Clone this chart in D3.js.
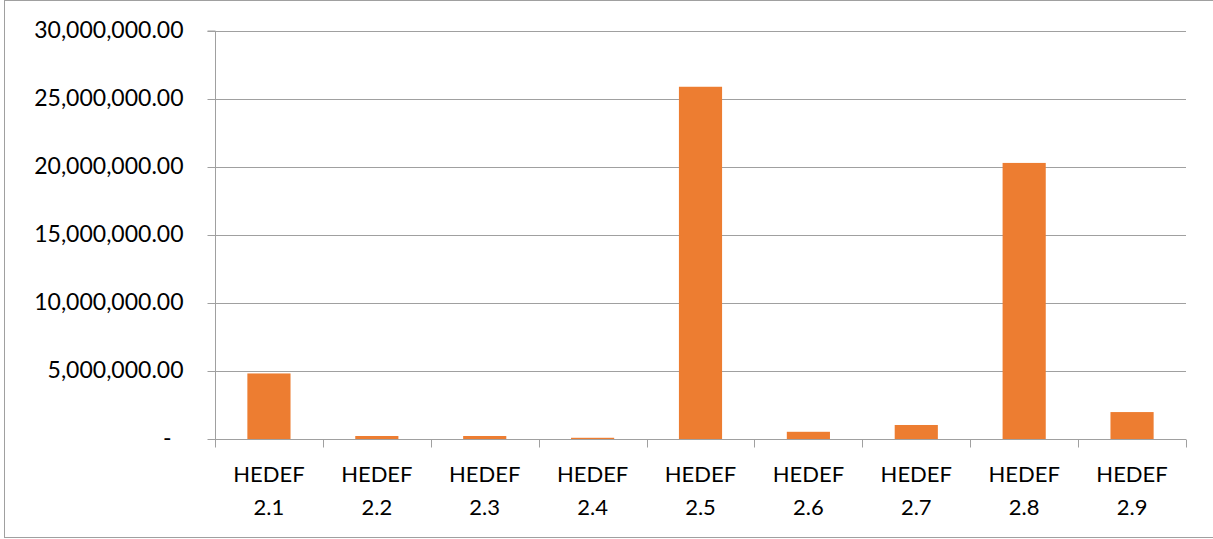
<!DOCTYPE html>
<html><head><meta charset="utf-8">
<script src="https://cdn.jsdelivr.net/npm/d3@7"></script>
<style>
html,body{margin:0;padding:0;background:#fff;}
svg{display:block;}
text{font-family:Lato,"Open Sans",sans-serif;fill:#000;}
</style></head>
<body><svg id="c" width="1213" height="539"></svg>
<script>
const categories = ["HEDEF 2.1","HEDEF 2.2","HEDEF 2.3","HEDEF 2.4","HEDEF 2.5","HEDEF 2.6","HEDEF 2.7","HEDEF 2.8","HEDEF 2.9"];
const values = [4820000, 220000, 220000, 90000, 25900000, 530000, 1030000, 20300000, 1980000];
const yTicks = [0, 5000000, 10000000, 15000000, 20000000, 25000000, 30000000];

const W = 1213, H = 539;
const m = {left: 215, right: 27, top: 31, bottom: 100};
const svg = d3.select("#c");

svg.append("rect").attr("x", 4.5).attr("y", 0.5).attr("width", W - 4).attr("height", H - 2)
  .attr("fill", "#fff").attr("stroke", "#a0a0a0").attr("stroke-width", 1);

const x = d3.scaleBand().domain(categories).range([m.left, W - m.right]).paddingInner(0.6).paddingOuter(0.3);
const xb = d3.scaleBand().domain(categories).range([m.left, W - m.right]);
const y = d3.scaleLinear().domain([0, 30000000]).range([H - m.bottom, m.top]);

const fmt = d => d === 0 ? "-" : d3.format(",.2f")(d);

// gridlines
svg.append("g").selectAll("line").data(yTicks.filter(d => d > 0)).join("line")
  .attr("x1", m.left).attr("x2", W - m.right)
  .attr("y1", d => Math.round(y(d)) + 0.5).attr("y2", d => Math.round(y(d)) + 0.5)
  .attr("stroke", "#a0a0a0").attr("stroke-width", 1);

// bars
svg.append("g").selectAll("rect").data(values).join("rect")
  .attr("x", (d, i) => x(categories[i]))
  .attr("width", x.bandwidth())
  .attr("y", d => y(d))
  .attr("height", d => y(0) - y(d))
  .attr("fill", "#ED7D31");

// y axis
const yAxis = d3.axisLeft(y).tickValues(yTicks).tickFormat(fmt).tickSize(8).tickPadding(24);
const gy = svg.append("g").attr("transform", `translate(${m.left + 0.5},0)`).call(yAxis);
gy.select(".domain").attr("stroke", "#a0a0a0").attr("d", `M-8,${y(30000000)}H0V${y(0)}`);
gy.selectAll(".tick line").attr("stroke", "#a0a0a0");
gy.selectAll(".tick text").attr("font-size", 23).attr("fill", "#000").attr("dy", "0.3em")
  .attr("dx", d => d === 0 ? -12 : 0)
  .style("font-family", "Lato");

// x axis
const xAxis = d3.axisBottom(xb).tickValues([]).tickSize(0);
const gx = svg.append("g").attr("transform", `translate(0,${Math.round(y(0)) + 0.5})`).call(xAxis);
gx.select(".domain").attr("stroke", "#a0a0a0").attr("d", `M${m.left},0H${W - m.right}`);
const bounds = categories.map(c => xb(c)).concat([W - m.right]);
gx.selectAll("line.tk").data(bounds).join("line").attr("class", "tk")
  .attr("x1", d => Math.round(d) + 0.5).attr("x2", d => Math.round(d) + 0.5)
  .attr("y1", 0).attr("y2", 8).attr("stroke", "#a0a0a0");

const lbl = svg.append("g").selectAll("text").data(categories).join("text")
  .attr("x", c => xb(c) + xb.bandwidth() / 2)
  .attr("text-anchor", "middle").attr("font-size", 22);
lbl.append("tspan").attr("x", c => xb(c) + xb.bandwidth() / 2).attr("y", 482).text(c => c.split(" ")[0]);
lbl.append("tspan").attr("x", c => xb(c) + xb.bandwidth() / 2).attr("y", 515).text(c => c.split(" ")[1]);
</script>
</body></html>
